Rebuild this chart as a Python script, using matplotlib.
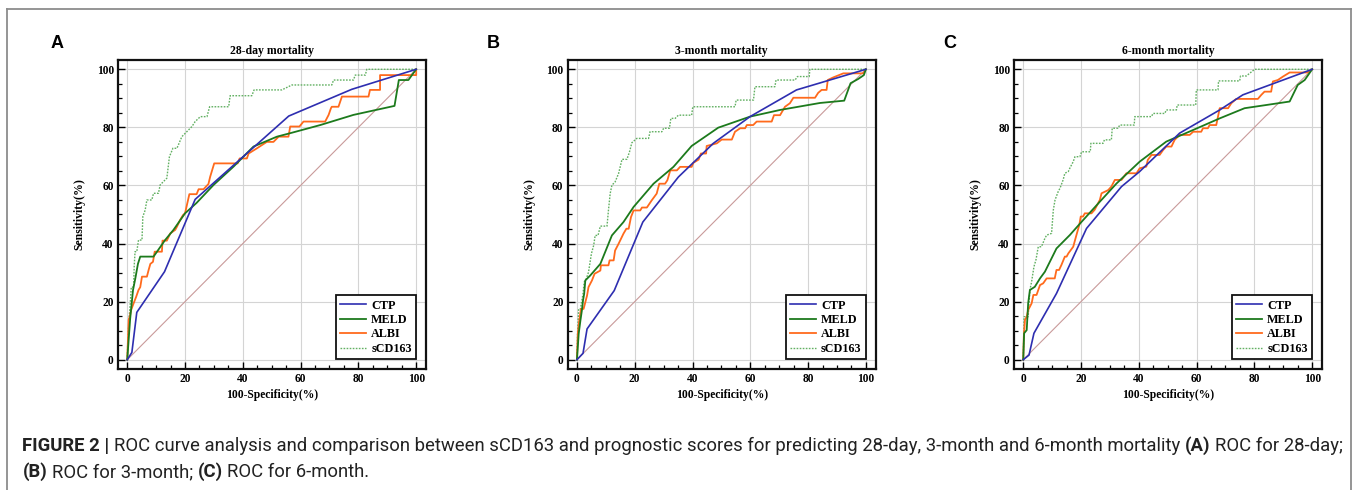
import matplotlib
matplotlib.use("Agg")
import matplotlib.pyplot as plt
from matplotlib.lines import Line2D
from matplotlib.ticker import MultipleLocator

W, H, DPI = 1358, 490, 100

panel_letters = ["A", "B", "C"]
panel_titles = ["28-day mortality", "3-month mortality", "6-month mortality"]
series_names = ["CTP", "MELD", "ALBI", "sCD163"]
tick_values = [0, 20, 40, 60, 80, 100]
x_label = "100-Specificity(%)"
y_label = "Sensitivity(%)"

# ---------------- Panel A: 28-day ----------------
a_ctp_x = [0, 1.6, 3.3, 12.9, 23.5, 55.9, 77.7, 100]
a_ctp_y = [0, 2.5, 16.3, 30.3, 55.2, 83.9, 93.1, 100]
a_meld_x = [0, 1, 2, 2.8, 3.7, 4.5, 9.1, 10.3, 13.1, 16, 20, 24, 29.9, 36.8, 43.7,
            51.8, 56.4, 66.8, 78.3, 92.5, 94, 97.3, 100]
a_meld_y = [0, 14, 24, 28, 33, 35.5, 35.5, 37.2, 41.2, 44.7, 50.4, 54, 60.2, 66.5, 73.4,
            76.8, 78, 80.8, 84.3, 87.4, 96.3, 96.3, 100]
a_albi_x = [0, 0.5, 1, 1.3, 2.2, 3.1, 3.9, 4.5, 5.1, 6.8, 7.4, 8, 8.9, 9.5, 12, 12.2,
            13.7, 14.9, 16.6, 17.2, 18.3, 19.3, 20, 21.5, 24, 24.7, 26.4, 28.1, 28.7,
            30.1, 38.2, 38.9, 41.4, 42, 44.9, 48.3, 50.6, 52.4, 55.8, 56.4, 59.6, 61,
            68.5, 69.7, 70.5, 70.8, 73.1, 74.3, 83.5, 84, 87.5, 87.5, 100, 100]
a_albi_y = [0, 13.7, 15.4, 17, 19.4, 21.7, 24, 25, 28.6, 28.6, 30.9, 33, 33.7, 37.2,
            37.2, 41, 41, 43.5, 44.7, 45.8, 48.1, 49.8, 50.4, 57, 57, 58.7, 58.7, 60.5,
            63, 67.6, 67.6, 69.3, 69.3, 71, 72.8, 75, 75, 76.8, 76.8, 80.3, 80.3, 82,
            82, 84.3, 86.6, 87.1, 87.1, 90.6, 90.6, 92.9, 92.9, 98, 98, 100]
a_scd_x = [0, 0.2, 0.6, 1, 1.4, 2.2, 2.4, 2.7, 3.3, 3.9, 5.1, 5.4, 6.2, 6.8, 8.5, 9.1,
           10.8, 11.4, 13.7, 14.6, 15.8, 17.2, 18.9, 20.6, 22.4, 23.5, 25.3, 27.6, 28.5,
           35.1, 35.6, 43.1, 43.9, 53.5, 57, 70.8, 71.4, 78.3, 78.9, 82.4, 82.9, 100]
a_scd_y = [0, 6.8, 13.7, 18.8, 25, 25, 32, 37.2, 37.2, 41.2, 41.2, 49.3, 51.5, 55, 55,
           57.3, 57.3, 60.2, 62.5, 69.9, 72.8, 72.8, 76.8, 78.5, 80.3, 82, 83.7, 83.7,
           87.1, 87.1, 90.9, 90.9, 92.9, 92.9, 94.6, 94.6, 96.3, 96.3, 98, 98, 100, 100]

# ---------------- Panel B: 3-month ----------------
b_ctp_x = [0, 2.1, 3.5, 12.9, 22.8, 35.1, 47.2, 59.9, 76, 100]
b_ctp_y = [0, 2.2, 10.6, 23.8, 47.4, 62.9, 74.5, 83.7, 92.9, 100]
b_meld_x = [0, 0.6, 1.2, 1.7, 2.1, 2.5, 2.9, 4.6, 8.1, 12.1, 16.1, 19.6, 26.5, 33.4,
            39.7, 48.9, 59.9, 70.3, 84.1, 92.5, 94.7, 97.4, 99.3, 100]
b_meld_y = [0, 8.9, 13.5, 16.9, 20.4, 22.7, 27.3, 29, 33, 42.8, 47.4, 52.6, 60.6, 66.4,
            73.6, 79.9, 83.7, 86, 88.4, 89.2, 95.2, 96.7, 98, 100]
b_albi_x = [0, 0.3, 0.8, 1.4, 2.3, 2.9, 3.5, 4, 5.2, 6.1, 8.1, 8.3, 10.9, 11.3, 12.7,
            13.2, 14.4, 16.1, 17.1, 17.9, 18.7, 19.6, 21.9, 22.5, 24.2, 25.9, 27.6,
            28.5, 30.5, 31.3, 32.3, 34.6, 35.7, 39.7, 40.3, 42.1, 42.9, 44.7, 44.9,
            48.4, 50.1, 53.6, 54.7, 56.5, 58.2, 58.8, 61, 62.2, 67.4, 68.2, 70.3, 72,
            73.7, 74.9, 82.4, 83.5, 84.7, 86.4, 86.8, 88.7, 92.2, 99.1, 100]
b_albi_y = [0, 8.9, 13.5, 17.5, 17.5, 19.8, 22.1, 25, 27.3, 29.6, 30.7, 32.5, 32.5,
            34.2, 34.2, 37.6, 39.9, 43.4, 45.1, 45.1, 49.1, 51.4, 51.4, 52.4, 52.4,
            54.9, 57.2, 60.6, 60.6, 61.8, 65.2, 65.2, 66.4, 66.4, 67.8, 68.9, 71, 71,
            73.6, 74.5, 75.8, 75.8, 78.5, 79.7, 79.7, 80.8, 80.8, 82, 82, 84.2, 84.2,
            87.1, 88.3, 90.2, 90.2, 91.9, 92.9, 92.9, 96.3, 97.2, 98.6, 98.6, 100]
b_scd_x = [0, 0.2, 0.6, 1.2, 2.1, 2.5, 3.2, 4, 5, 5.8, 6.3, 7.3, 8.1, 10.4, 10.9, 11.5,
           12.1, 13.2, 14.4, 15.6, 17.3, 18.2, 19, 20.7, 24.8, 25.3, 29.4, 30, 32,
           32.5, 34, 35.1, 39.7, 40.1, 54.7, 55.1, 61.1, 61.6, 68.5, 68.9, 75.5, 76.3,
           80.4, 80.6, 100]
b_scd_y = [0, 8.9, 17.5, 17.5, 22.7, 26.7, 27.8, 30.1, 36.5, 39.4, 42.8, 42.8, 46, 46,
           51.4, 57.2, 60.1, 61.2, 64.1, 69, 69, 71.6, 74.7, 76.2, 76.2, 78.5, 78.5,
           79.7, 79.7, 83.1, 83.1, 84.2, 84.2, 87.1, 87.1, 89.4, 89.4, 94, 94, 96.3,
           96.3, 97.5, 97.5, 100, 100]

# ---------------- Panel C: 6-month ----------------
c_ctp_x = [0, 2, 3.7, 11.5, 21.9, 34, 40.3, 54.1, 68, 76, 100]
c_ctp_y = [0, 1.6, 9.1, 22.8, 45.2, 59.6, 64.8, 78, 86, 91.2, 100]
c_meld_x = [0, 0.3, 1.2, 1.7, 2.3, 4, 5.8, 7.5, 11.5, 16.1, 20.2, 26.5, 32.3, 40.3,
            49.5, 58.8, 68, 76.6, 84.1, 92.2, 95, 97.4, 100]
c_meld_y = [0, 9.1, 10.2, 19.4, 24, 25.1, 28, 30.3, 38.3, 42.9, 47.5, 54.4, 60.7, 68.2,
            75.1, 79.1, 83.1, 86.6, 87.7, 88.9, 94.6, 96.3, 100]
c_albi_x = [0, 0.2, 0.6, 1.2, 1.7, 2.9, 3.5, 4.6, 5.2, 5.8, 6.9, 8.1, 10.9, 11.5, 12.4,
            13.2, 14.4, 15, 15.6, 17.3, 18.4, 19.4, 19.9, 20.7, 21.3, 23.6, 24.7, 26.5,
            27.1, 29.4, 30.5, 31.7, 34, 35.7, 39.2, 40.3, 42.6, 43.1, 44.4, 47.2, 48.4,
            49.5, 51.3, 52.4, 54.1, 57.6, 58.8, 61.6, 62.2, 63.9, 64.5, 66.8, 68, 70.9,
            72, 73.7, 81.2, 82.4, 83.5, 85.8, 86.4, 88.1, 89.9, 92.2, 98.5, 100]
c_albi_y = [0, 7.9, 13.7, 14.8, 17.1, 19.4, 22.3, 22.3, 24, 25.7, 26.3, 28, 28, 30.9,
            30.9, 32.6, 35.5, 35.5, 36.6, 38.9, 42.9, 46.4, 49.3, 49.3, 50.4, 50.4,
            51.6, 55, 57.3, 58.4, 59.6, 61.9, 61.9, 64.2, 64.2, 65.9, 66.5, 68.8, 70.5,
            70.5, 72.2, 73.4, 73.4, 75.7, 77.4, 77.4, 78.5, 78.5, 79.7, 79.7, 80.8, 80.8,
            86.6, 86.6, 88.3, 89.8, 89.8, 91.2, 92.3, 92.3, 95.8, 96.3, 97.5, 98.9, 98.9,
            100]
c_scd_x = [0, 0.2, 0.3, 1.7, 2.3, 2.9, 3.7, 4.4, 5.2, 6.3, 7.5, 8.1, 9.8, 10.4, 11,
           12.1, 12.7, 13.8, 14.4, 15.6, 16.1, 17.3, 17.9, 19.6, 20.2, 23.2, 23.4, 27.6,
           28.1, 30.5, 30.8, 32.8, 33.4, 38.4, 38.6, 44.4, 44.9, 49, 49.5, 53, 53.3,
           59.7, 59.9, 67.4, 67.6, 74.9, 75.2, 77.2, 80.1, 100]
c_scd_y = [0, 9.1, 14.8, 14.8, 24, 26.9, 32, 34.4, 38.9, 38.9, 41.8, 42.9, 43.5, 51.5,
           55, 57.9, 59, 61.9, 64.2, 64.8, 65.9, 68.2, 69.9, 69.9, 71.6, 71.6, 74.5,
           74.5, 75.7, 75.7, 79.7, 79.7, 80.8, 80.8, 83.7, 83.7, 84.8, 84.8, 86, 86,
           87.7, 87.7, 92.9, 92.9, 96, 96, 97.7, 97.7, 100, 100]

panel_data = [
    [(a_ctp_x, a_ctp_y), (a_meld_x, a_meld_y), (a_albi_x, a_albi_y), (a_scd_x, a_scd_y)],
    [(b_ctp_x, b_ctp_y), (b_meld_x, b_meld_y), (b_albi_x, b_albi_y), (b_scd_x, b_scd_y)],
    [(c_ctp_x, c_ctp_y), (c_meld_x, c_meld_y), (c_albi_x, c_albi_y), (c_scd_x, c_scd_y)],
]

series_colors = ["#2e2eb0", "#1c7a1c", "#ff6a1c", "#62b062"]
series_styles = ["-", "-", "-", (0, (1.2, 1.0))]
series_widths = [1.2, 1.3, 1.3, 1.0]
diag_color = "#c99a9a"

SERIF = "Liberation Serif"

fig = plt.figure(figsize=(W / DPI, H / DPI), dpi=DPI)
fig.patch.set_facecolor("white")

ax_lefts = [118, 567.7, 1014]
ax_top, ax_bot, ax_w = 60, 369, 308
letter_x = [57, 493, 950]

for i in range(3):
    l = ax_lefts[i]
    ax = fig.add_axes([l / W, 1 - ax_bot / H, ax_w / W, (ax_bot - ax_top) / H])
    ax.set_xlim(-3.2, 103.4)
    ax.set_ylim(-3.2, 103.2)
    ax.xaxis.set_minor_locator(MultipleLocator(5))
    ax.yaxis.set_minor_locator(MultipleLocator(5))
    ax.set_xticks(tick_values)
    ax.set_yticks(tick_values)
    ax.grid(True, which="major", color="#d4d4d4", linewidth=0.8)
    ax.set_axisbelow(True)
    ax.tick_params(which="major", direction="in", length=5, width=1.0, pad=3,
                   labelsize=8.3, top=False, right=False)
    ax.tick_params(which="minor", direction="in", length=3.2, width=0.9,
                   top=False, right=False)
    for lab in ax.get_xticklabels() + ax.get_yticklabels():
        lab.set_fontfamily(SERIF)
        lab.set_fontweight("bold")
    for sp in ax.spines.values():
        sp.set_linewidth(1.6)
        sp.set_color("#111111")

    ax.plot([0, 100], [0, 100], color=diag_color, linewidth=0.8, zorder=2)
    handles = []
    for k in range(4):
        xs, ys = panel_data[i][k]
        ln, = ax.plot(xs, ys, color=series_colors[k], linestyle=series_styles[k],
                      linewidth=series_widths[k], zorder=3 + (3 - k) * 0.1,
                      label=series_names[k])
        handles.append(ln)

    leg = ax.legend(handles=handles, loc="lower right",
                    bbox_to_anchor=(0.9675, 0.032), borderaxespad=0,
                    prop={"family": SERIF, "weight": "bold", "size": 8.7},
                    frameon=True, fancybox=False, edgecolor="#111111",
                    framealpha=1, handlelength=2.1, handletextpad=0.45,
                    labelspacing=0.2, borderpad=0.35)
    leg.get_frame().set_linewidth(1.3)

    ax.set_title(panel_titles[i], fontsize=8.5, fontweight="bold",
                 fontfamily=SERIF, pad=4)
    ax.set_xlabel(x_label, fontsize=8.4, fontweight="bold", fontfamily=SERIF,
                  labelpad=3)
    ax.set_ylabel(y_label, fontsize=8.5, fontweight="bold", fontfamily=SERIF,
                  labelpad=8)

    fig.text(letter_x[i] / W, 1 - 43 / H, panel_letters[i], fontsize=13,
             fontweight="bold", family="Liberation Sans", ha="center", va="center")

# outer frame (left, top, right)
frame_col = "#8c8c8c"
fig.add_artist(Line2D([7 / W, 7 / W], [0, 1 - 9 / H], color=frame_col, linewidth=1.3,
                      transform=fig.transFigure))
fig.add_artist(Line2D([7 / W, 1351 / W], [1 - 9 / H, 1 - 9 / H], color=frame_col,
                      linewidth=1.3, transform=fig.transFigure))
fig.add_artist(Line2D([1351 / W, 1351 / W], [0, 1 - 9 / H], color=frame_col,
                      linewidth=1.3, transform=fig.transFigure))

# caption
cap_family = "Roboto"

line1 = [("FIGURE 2 |", True),
         ("ROC curve analysis and comparison between sCD163 and prognostic scores for "
          "predicting 28-day, 3-month and 6-month mortality", False),
         ("(A)", True), ("ROC for 28-day;", False)]
line2 = [("(B)", True), ("ROC for 3-month;", False), ("(C)", True),
         ("ROC for 6-month.", False)]

renderer = fig.canvas.get_renderer()


def seg_width(segs, fs):
    total = 0.0
    for txt, bold in segs:
        t = fig.text(0, 0, txt, fontsize=fs, family=cap_family,
                     fontweight="bold" if bold else "normal")
        total += t.get_window_extent(renderer).width
        t.remove()
    t1 = fig.text(0, 0, "a a", fontsize=fs, family=cap_family)
    t2 = fig.text(0, 0, "aa", fontsize=fs, family=cap_family)
    sp = t1.get_window_extent(renderer).width - t2.get_window_extent(renderer).width
    t1.remove(); t2.remove()
    return total + sp * (len(segs) - 1), sp


base_fs = 10.0
w0, _ = seg_width(line1, base_fs)
cap_fs = base_fs * (1339 - 22.5) / w0
cap_fs = min(cap_fs, 14.0)
_, space_w = seg_width(line1, cap_fs)


def draw_line(segs, x0, y):
    x = x0
    for txt, bold in segs:
        t = fig.text(x / W, 1 - y / H, txt, fontsize=cap_fs, family=cap_family,
                     fontweight="bold" if bold else "normal", ha="left",
                     va="center", color="#222222")
        x += t.get_window_extent(renderer).width + space_w


draw_line(line1, 22.5, 446)
draw_line(line2, 22.5, 472)

fig.savefig("out.png", dpi=DPI, facecolor="white")
